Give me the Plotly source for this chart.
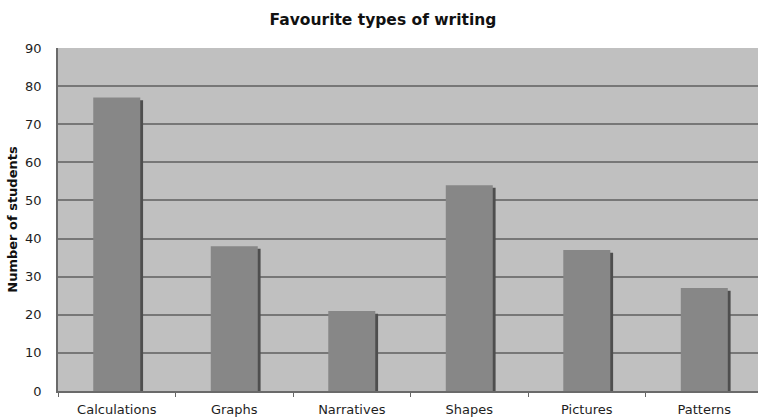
import plotly.graph_objects as go

categories = ["Calculations", "Graphs", "Narratives", "Shapes", "Pictures", "Patterns"]
students = [77, 38, 21, 54, 37, 27]
y_ticks = [0, 10, 20, 30, 40, 50, 60, 70, 80, 90]

BAR_W = 0.4
fig = go.Figure()

# dark drop shadow behind each bar, nudged right and down
fig.add_trace(go.Bar(
    x=categories, y=students, base=-0.7,
    width=BAR_W, offset=-BAR_W / 2 + 0.024,
    marker=dict(color="#4e4e4e", line=dict(width=0)),
    hoverinfo="skip", showlegend=False,
))
# main bars
fig.add_trace(go.Bar(
    x=categories, y=students,
    width=BAR_W, offset=-BAR_W / 2,
    marker=dict(color="#878787", line=dict(width=0)),
    showlegend=False,
))

fig.update_layout(
    width=758, height=417,
    margin=dict(l=58, r=0, t=48, b=26),
    paper_bgcolor="white",
    plot_bgcolor="#c0c0c0",
    barmode="overlay",
    font=dict(family="DejaVu Sans", size=13, color="#1e1e1e"),
    title=dict(
        text="<b>Favourite types of writing</b>",
        font=dict(family="DejaVu Sans", size=15.5, color="#111111"),
        x=383 / 758, xanchor="center", y=0.952, yanchor="middle",
    ),
)

fig.update_xaxes(
    type="category",
    range=[-0.5, 5.457],
    tickson="boundaries",
    ticks="outside", ticklen=4, tickcolor="#666666", tickwidth=1,
    showgrid=False,
    showline=True, linecolor="#6a6a6a", linewidth=1.5,
    tickfont=dict(size=13, color="#1e1e1e"),
    ticklabelstandoff=6,
)
fig.update_yaxes(
    range=[0, 90],
    tickvals=y_ticks,
    ticks="", ticklen=0,
    showgrid=True, gridcolor="#777777", gridwidth=1.5,
    showline=True, linecolor="#6a6a6a", linewidth=1.5,
    zeroline=False,
    tickfont=dict(size=13, color="#1e1e1e"),
    ticklabelstandoff=12,
    title=dict(text="<b>Number of students</b>", font=dict(size=13, color="#111111"), standoff=5),
)

fig.write_html("out.html")
